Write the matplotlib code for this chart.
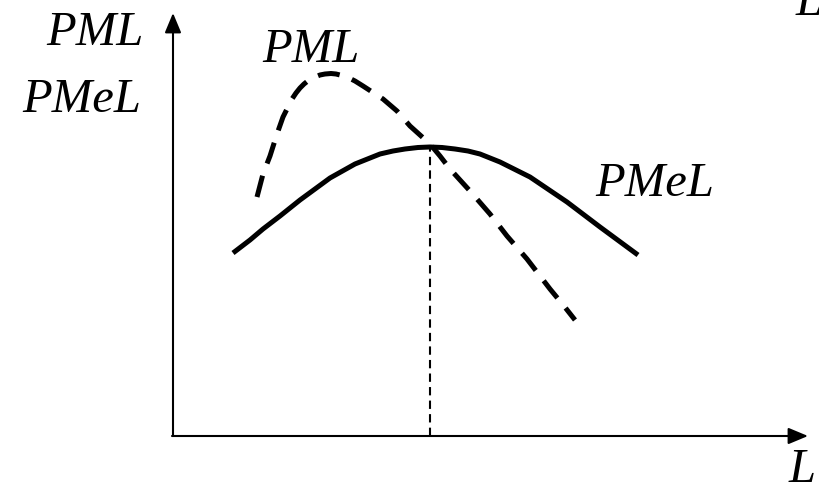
import numpy as np
import matplotlib
matplotlib.use('Agg')
import matplotlib.pyplot as plt

# ------------------------- DATA -------------------------
# 1 unit = 100 px, origin at the axes corner
# PMeL: average product of labour (solid curve)
pmel_L = [0.60, 0.77, 0.90, 1.07, 1.27, 1.57, 1.82, 2.07, 2.20, 2.32, 2.45,
          2.57, 2.69, 2.82, 2.95, 3.07, 3.27, 3.57, 3.94, 4.27, 4.65]
pmel_y = [1.83, 1.96, 2.07, 2.20, 2.36, 2.58, 2.72, 2.82, 2.85, 2.87, 2.885,
          2.89, 2.885, 2.87, 2.85, 2.82, 2.74, 2.59, 2.34, 2.09, 1.81]

# PML: marginal product of labour (dashed curve)
pml_L = [0.84, 0.90, 0.97, 1.04, 1.10, 1.19, 1.23, 1.27, 1.31, 1.36, 1.42,
         1.47, 1.52, 1.58, 1.63, 1.69, 1.74, 1.82, 1.90, 2.10, 2.24, 2.37,
         2.47, 2.57, 2.67, 2.77, 2.97, 3.17, 3.34, 3.54, 3.77, 3.91, 4.02]
pml_y = [2.39, 2.62, 2.80, 3.02, 3.19, 3.37, 3.43, 3.48, 3.52, 3.56, 3.59,
         3.61, 3.62, 3.625, 3.62, 3.605, 3.59, 3.55, 3.50, 3.37, 3.25, 3.10,
         3.01, 2.92, 2.80, 2.67, 2.45, 2.22, 2.00, 1.77, 1.47, 1.30, 1.16]

L_star = 2.57          # where PML crosses the PMeL maximum
PMeL_max = 2.89

# ------------------------------- PLOTTING ------------------------------------
fig = plt.figure(figsize=(8.2, 4.89), dpi=100)
ax = fig.add_axes([0, 0, 1, 1])
ax.set_xlim(-1.73, 6.47)
ax.set_ylim(-0.52, 4.37)
ax.axis('off')

# axes with arrows
arrow = dict(arrowstyle='-|>,head_length=0.6,head_width=0.25', lw=1.5,
             color='black', mutation_scale=20, shrinkA=0, shrinkB=0)
ax.annotate('', xy=(0, 4.23), xytext=(0, 0), arrowprops=arrow)
ax.annotate('', xy=(6.35, 0), xytext=(-0.01, 0), arrowprops=arrow)

# curves
ax.plot(pmel_L, pmel_y, color='black', lw=3.6, solid_capstyle='butt',
        solid_joinstyle='round')
ax.plot(pml_L, pml_y, color='black', lw=3.6, dashes=(4.4, 2.6),
        dash_capstyle='butt', dash_joinstyle='round')
ax.plot([L_star, L_star], [0, PMeL_max], color='black', lw=1.5,
        dashes=(4.0, 2.5))

# labels
txt = dict(family='Liberation Serif', style='italic', fontsize=35,
           color='black', ha='center', va='baseline')
ax.text(-0.78, 3.92, 'PML', **txt)
ax.text(-0.91, 3.25, 'PMeL', **txt)
ax.text(1.38, 3.75, 'PML', **txt)
ax.text(4.82, 2.41, 'PMeL', **txt)
ax.text(6.29, -0.45, 'L', **txt)
ax.text(6.36, 4.22, 'L', **txt)

fig.savefig('out.png', dpi=100)
